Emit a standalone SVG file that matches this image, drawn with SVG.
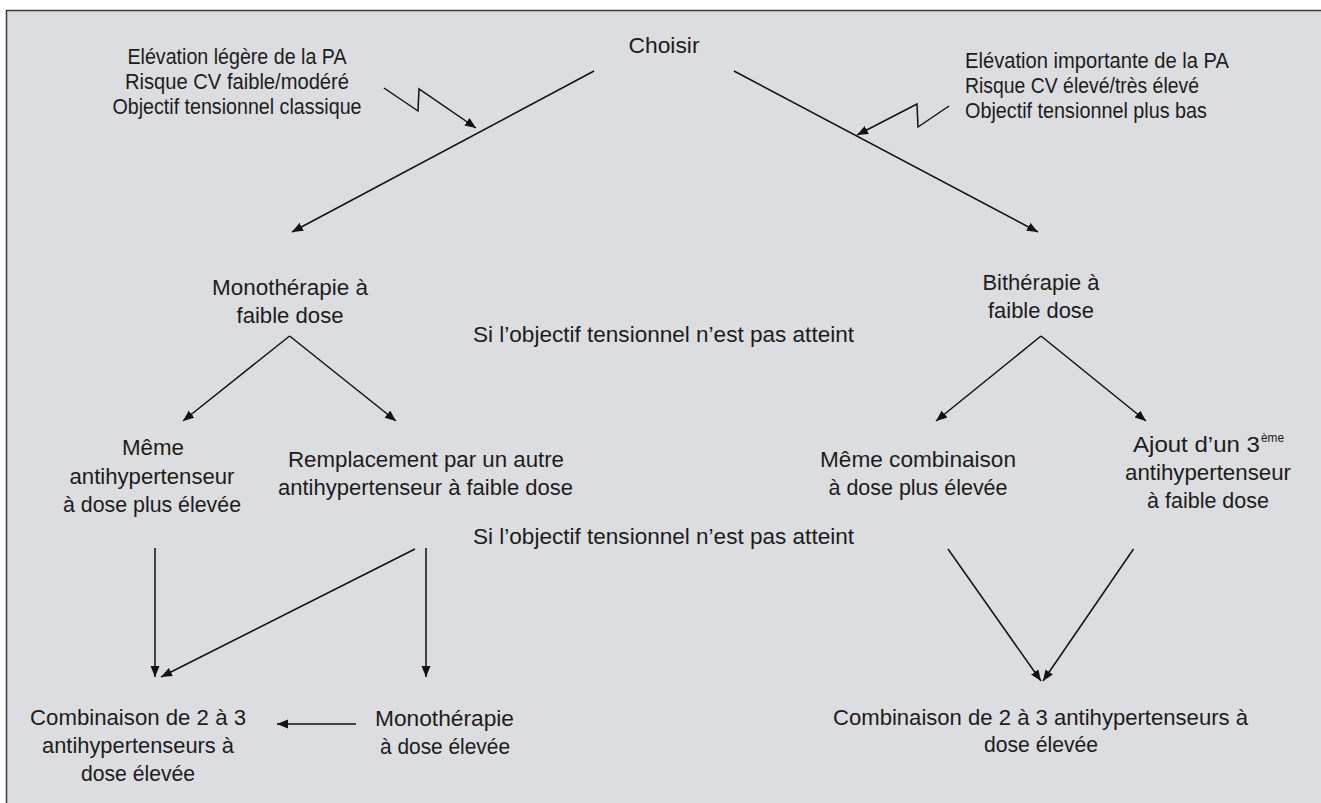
<svg xmlns="http://www.w3.org/2000/svg" width="1321" height="803" viewBox="0 0 1321 803">
<style>
text{font-family:"Liberation Sans",Arial,sans-serif;font-size:22px;fill:#1c1c1c;text-anchor:middle}
.l{text-anchor:start}
.sup{font-size:12px;text-anchor:start}
.c line,.c polyline{stroke:#111;stroke-width:1.5;fill:none}
.a{marker-end:url(#ah)}
</style>
<defs>
<marker id="ah" markerUnits="userSpaceOnUse" markerWidth="12" markerHeight="10" refX="11" refY="4.5" orient="auto">
<path d="M0,0 L11,4.5 L0,9 z" fill="#111"/>
</marker>
</defs>
<rect x="0" y="0" width="1321" height="803" fill="#ffffff"/>
<rect x="6.5" y="10.5" width="1330" height="800" fill="#dcdde0" stroke="#3a3a3a" stroke-width="1.5"/>

<g id="choisir"><text x="664" y="53" textLength="71" lengthAdjust="spacingAndGlyphs">Choisir</text></g>

<g id="crit-left">
<text x="237" y="64" textLength="219" lengthAdjust="spacingAndGlyphs">Elévation légère de la PA</text>
<text x="237" y="89" textLength="224" lengthAdjust="spacingAndGlyphs">Risque CV faible/modéré</text>
<text x="237" y="114" textLength="249" lengthAdjust="spacingAndGlyphs">Objectif tensionnel classique</text>
</g>

<g id="crit-right">
<text class="l" x="965" y="68" textLength="264" lengthAdjust="spacingAndGlyphs">Elévation importante de la PA</text>
<text class="l" x="965" y="93" textLength="234" lengthAdjust="spacingAndGlyphs">Risque CV élevé/très élevé</text>
<text class="l" x="965" y="118" textLength="242" lengthAdjust="spacingAndGlyphs">Objectif tensionnel plus bas</text>
</g>

<g id="mono-faible">
<text x="290" y="295" textLength="156" lengthAdjust="spacingAndGlyphs">Monothérapie à</text>
<text x="290" y="323" textLength="107" lengthAdjust="spacingAndGlyphs">faible dose</text>
</g>

<g id="bi-faible">
<text x="1041" y="290" textLength="117" lengthAdjust="spacingAndGlyphs">Bithérapie à</text>
<text x="1041" y="318" textLength="106" lengthAdjust="spacingAndGlyphs">faible dose</text>
</g>

<g id="si1"><text x="663.5" y="342" textLength="381" lengthAdjust="spacingAndGlyphs">Si l’objectif tensionnel n’est pas atteint</text></g>
<g id="si2"><text x="663.5" y="544" textLength="381" lengthAdjust="spacingAndGlyphs">Si l’objectif tensionnel n’est pas atteint</text></g>

<g id="meme-anti">
<text x="153" y="455" textLength="62" lengthAdjust="spacingAndGlyphs">Même</text>
<text x="152" y="484" textLength="165" lengthAdjust="spacingAndGlyphs">antihypertenseur</text>
<text x="152" y="512" textLength="178" lengthAdjust="spacingAndGlyphs">à dose plus élevée</text>
</g>

<g id="remplacement">
<text x="426" y="467" textLength="276" lengthAdjust="spacingAndGlyphs">Remplacement par un autre</text>
<text x="425.5" y="495" textLength="295" lengthAdjust="spacingAndGlyphs">antihypertenseur à faible dose</text>
</g>

<g id="meme-comb">
<text x="918" y="467" textLength="196" lengthAdjust="spacingAndGlyphs">Même combinaison</text>
<text x="918" y="495" textLength="179" lengthAdjust="spacingAndGlyphs">à dose plus élevée</text>
</g>

<g id="ajout">
<text class="l" x="1133" y="452" textLength="127" lengthAdjust="spacingAndGlyphs">Ajout d’un 3</text>
<text class="sup" x="1261" y="442" textLength="23" lengthAdjust="spacingAndGlyphs">ème</text>
<text x="1208" y="480" textLength="166" lengthAdjust="spacingAndGlyphs">antihypertenseur</text>
<text x="1208" y="508" textLength="122" lengthAdjust="spacingAndGlyphs">à faible dose</text>
</g>

<g id="comb-left">
<text x="138" y="725" textLength="216" lengthAdjust="spacingAndGlyphs">Combinaison de 2 à 3</text>
<text x="138" y="753" textLength="192" lengthAdjust="spacingAndGlyphs">antihypertenseurs à</text>
<text x="138" y="781" textLength="114" lengthAdjust="spacingAndGlyphs">dose élevée</text>
</g>

<g id="mono-elevee">
<text x="444.5" y="726" textLength="139" lengthAdjust="spacingAndGlyphs">Monothérapie</text>
<text x="445" y="754" textLength="130" lengthAdjust="spacingAndGlyphs">à dose élevée</text>
</g>

<g id="comb-right">
<text x="1040.5" y="725" textLength="415" lengthAdjust="spacingAndGlyphs">Combinaison de 2 à 3 antihypertenseurs à</text>
<text x="1041" y="752" textLength="114" lengthAdjust="spacingAndGlyphs">dose élevée</text>
</g>

<g id="connectors" class="c">
<line class="a" x1="594" y1="71" x2="292" y2="232"/>
<line class="a" x1="734" y1="71" x2="1038" y2="232"/>
<polyline class="a" points="384,88 418,111 419,89 476,128"/>
<polyline class="a" points="949,106 918,127 917,104 857,135"/>
<line class="a" x1="289.6" y1="336" x2="183" y2="421"/>
<line class="a" x1="289.6" y1="336" x2="396" y2="421"/>
<line class="a" x1="1041" y1="336" x2="936" y2="421"/>
<line class="a" x1="1041" y1="336" x2="1146" y2="421"/>
<line class="a" x1="155" y1="548" x2="155" y2="677"/>
<line class="a" x1="415" y1="549" x2="161" y2="677"/>
<line class="a" x1="426" y1="548" x2="426" y2="677"/>
<line class="a" x1="356" y1="724" x2="277" y2="724"/>
<line class="a" x1="948" y1="549" x2="1041" y2="681"/>
<line class="a" x1="1133.5" y1="549" x2="1043" y2="681"/>
</g>
</svg>
